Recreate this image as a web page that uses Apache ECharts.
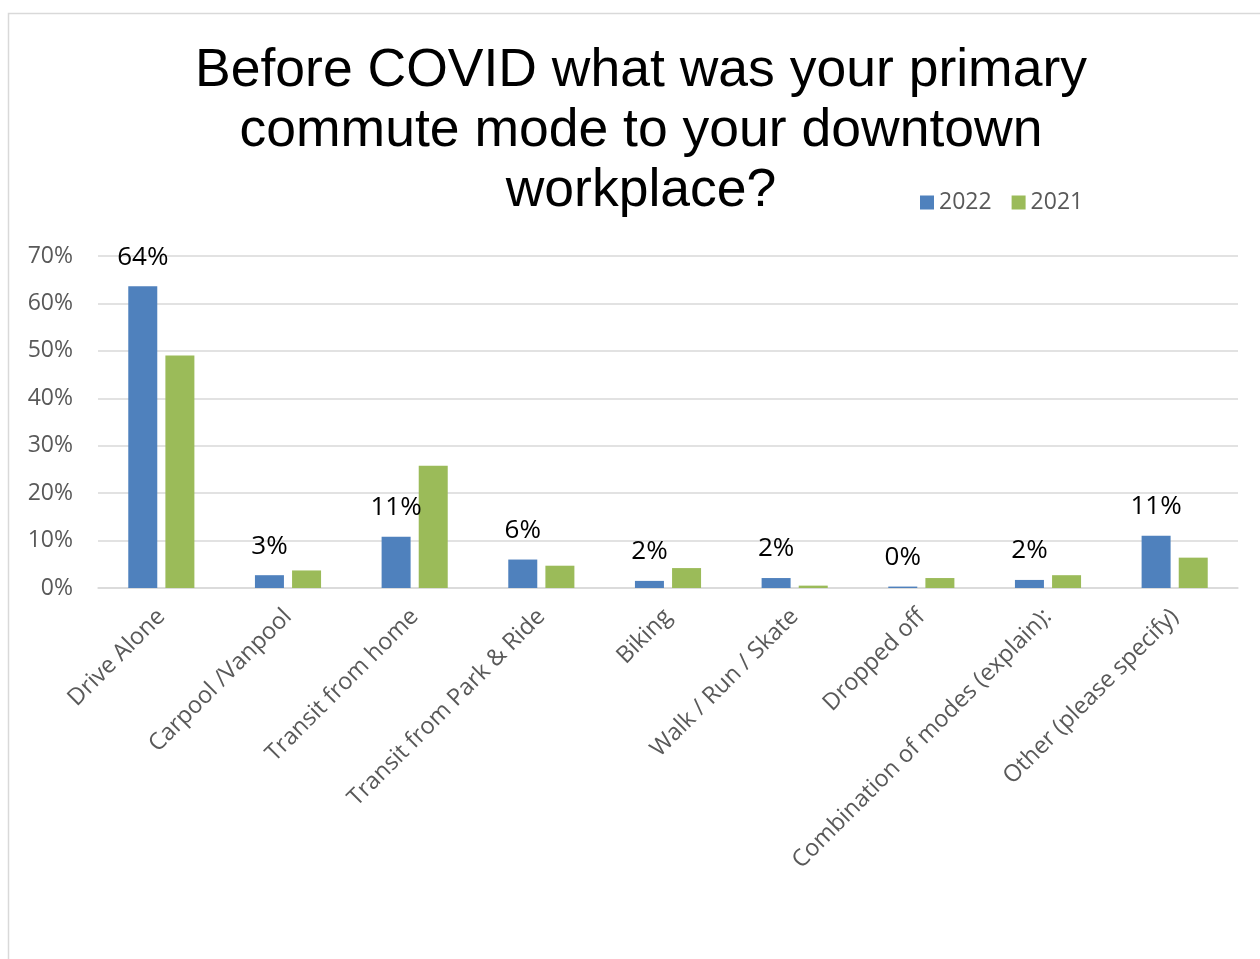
<!DOCTYPE html>
<html><head><meta charset="utf-8">
<script src="https://cdn.jsdelivr.net/npm/echarts@6/dist/echarts.min.js"></script>
<style>html,body{margin:0;padding:0;background:#fff;}#c{width:1260px;height:959px;}</style>
</head><body><div id="c"></div>
<script>
const categories = ["Drive Alone","Carpool /Vanpool","Transit from home","Transit from Park & Ride","Biking","Walk / Run / Skate","Dropped off","Combination of modes (explain):","Other (please specify)"];
const values2022 = [63.6, 2.7, 10.8, 6.0, 1.5, 2.1, 0.3, 1.7, 11.0];
const values2021 = [49.0, 3.7, 25.8, 4.7, 4.2, 0.5, 2.1, 2.7, 6.4];
const yTicks = [0, 10, 20, 30, 40, 50, 60, 70];
const titleText = "Before COVID what was your primary\ncommute mode to your downtown\nworkplace?";
const FONT = '"Open Sans", Calibri, sans-serif';

const chart = echarts.init(document.getElementById('c'), null, {renderer:'canvas'});
chart.setOption({
  animation:false,
  backgroundColor:'#fff',
  graphic:[{type:'rect', shape:{x:8.5,y:13.5,width:1300,height:1000}, style:{fill:'none',stroke:'#d9d9d9',lineWidth:1.5}, silent:true}],
  title:{text:titleText, left:636, top:36, textAlign:'center',
    textStyle:{fontFamily:'Liberation Sans, Arial', fontSize:53.5, fontWeight:'normal', color:'#000', lineHeight:60}},
  legend:{data:['2022','2021'], left:915, top:186, itemWidth:14, itemHeight:14, itemGap:20, icon:'rect',
    textStyle:{fontFamily:FONT, fontSize:23, color:'#595959', padding:[0,0,0,0]}},
  grid:{left:98, right:22, top:256, height:332, containLabel:false},
  xAxis:{type:'category', data:categories,
    axisLine:{show:true, lineStyle:{color:'#d9d9d9', width:1.5}}, axisTick:{show:false},
    axisLabel:{rotate:45, interval:0, fontFamily:FONT, fontSize:23.5, color:'#595959', margin:25}},
  yAxis:{type:'value', min:0, max:70, interval:10,
    axisLine:{show:false}, axisTick:{show:false},
    splitLine:{lineStyle:{color:'#d9d9d9', width:1.5}},
    axisLabel:{formatter:v=>v+'%', fontFamily:FONT, fontSize:23, color:'#595959', margin:25}},
  series:[
    {name:'2022', type:'bar', data:values2022, barWidth:29, barGap:'28%', barCategoryGap:'48%',
      itemStyle:{color:'#4F81BD'},
      label:{show:true, position:'top', distance:16, formatter:p=>Math.round(p.value)+'%',
        fontFamily:FONT, fontSize:26, color:'#000'}},
    {name:'2021', type:'bar', data:values2021, barWidth:29, itemStyle:{color:'#9BBB59'}}
  ]
});
</script></body></html>
